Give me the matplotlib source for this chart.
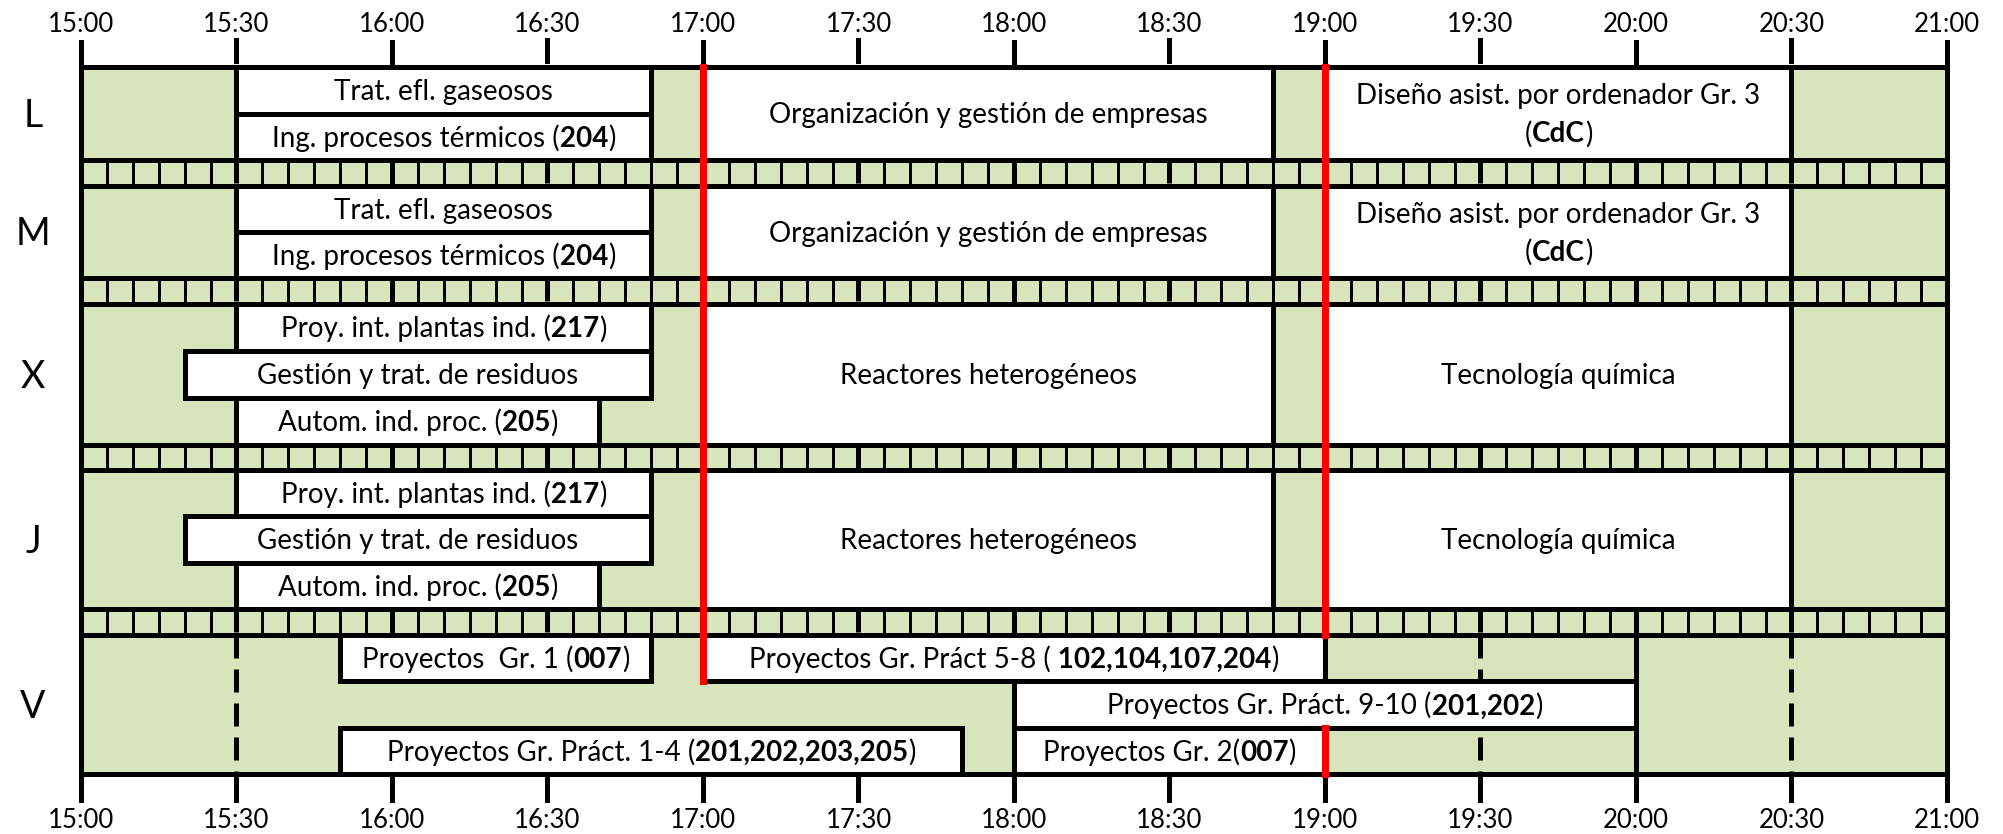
import matplotlib
matplotlib.use("Agg")
import matplotlib.pyplot as plt
from matplotlib.patches import Rectangle

plt.rcParams['font.family'] = ['Lato', 'DejaVu Sans']
plt.rcParams['lines.scale_dashes'] = False

# ---------------- data ----------------
days = ["L", "M", "X", "J", "V"]
bands_per_day = [2, 2, 3, 3, 3]
tick_hours = [15.0, 15.5, 16.0, 16.5, 17.0, 17.5, 18.0, 18.5, 19.0, 19.5, 20.0, 20.5, 21.0]
tick_labels = ["15:00", "15:30", "16:00", "16:30", "17:00", "17:30", "18:00",
               "18:30", "19:00", "19:30", "20:00", "20:30", "21:00"]

session_day = [0, 0, 0, 0,
               1, 1, 1, 1,
               2, 2, 2, 2, 2,
               3, 3, 3, 3, 3,
               4, 4, 4, 4, 4]
session_start = [15.5, 15.5, 17.0, 19.0,
                 15.5, 15.5, 17.0, 19.0,
                 15.5, 15 + 20/60, 15.5, 17.0, 19.0,
                 15.5, 15 + 20/60, 15.5, 17.0, 19.0,
                 15 + 50/60, 17.0, 18.0, 15 + 50/60, 18.0]
session_end = [16 + 50/60, 16 + 50/60, 18 + 50/60, 20.5,
               16 + 50/60, 16 + 50/60, 18 + 50/60, 20.5,
               16 + 50/60, 16 + 50/60, 16 + 40/60, 18 + 50/60, 20.5,
               16 + 50/60, 16 + 50/60, 16 + 40/60, 18 + 50/60, 20.5,
               16 + 50/60, 19.0, 20.0, 17 + 50/60, 19.0]
session_band_first = [0, 1, 0, 0,
                      0, 1, 0, 0,
                      0, 1, 2, 0, 0,
                      0, 1, 2, 0, 0,
                      0, 0, 1, 2, 2]
session_band_last = [1, 2, 2, 2,
                     1, 2, 2, 2,
                     1, 2, 3, 3, 3,
                     1, 2, 3, 3, 3,
                     1, 1, 2, 3, 3]
session_text = [
    "Trat. efl. gaseosos", "Ing. procesos térmicos (**204**)",
    "Organización y gestión de empresas", "Diseño asist. por ordenador Gr. 3\n(**CdC**)",
    "Trat. efl. gaseosos", "Ing. procesos térmicos (**204**)",
    "Organización y gestión de empresas", "Diseño asist. por ordenador Gr. 3\n(**CdC**)",
    "Proy. int. plantas ind. (**217**)", "Gestión y trat. de residuos",
    "Autom. ind. proc. (**205**)", "Reactores heterogéneos", "Tecnología química",
    "Proy. int. plantas ind. (**217**)", "Gestión y trat. de residuos",
    "Autom. ind. proc. (**205**)", "Reactores heterogéneos", "Tecnología química",
    "Proyectos  Gr. 1 (**007**)", "Proyectos Gr. Práct 5-8 ( **102,104,107,204**)",
    "Proyectos Gr. Práct. 9-10 (**201,202**)",
    "Proyectos Gr. Práct. 1-4 (**201,202,203,205**)", "Proyectos Gr. 2(**007**)",
]

# ---------------- style / layout ----------------
GREEN = "#D8E4BC"
RED = "#FF0000"
PX = 0.72            # points per pixel at dpi 100
W, H = 2003, 834
X0_PX, PX_PER_H = 81.0, 311.0
T0, T1 = 15.0, 21.0
TEXT_SIZE = 20

row_top = [67, 186, 304, 470, 635]
row_bot = [160, 278, 445, 609, 774]
TABLE_TOP, TABLE_BOT = row_top[0], row_bot[-1]

fig = plt.figure(figsize=(W / 100, H / 100), dpi=100)
ax = fig.add_axes([0, 0, 1, 1])
ax.set_xlim(T0 - X0_PX / PX_PER_H, T0 + (W - X0_PX) / PX_PER_H)
ax.set_ylim(H, 0)
ax.axis("off")

LW = 5 * PX
LW_THIN = 3 * PX
LW_RED = 7 * PX
DASH = (0, (23 * PX, 11 * PX))


def vline(x, y0, y1, **kw):
    ax.plot([x, x], [y0, y1], **kw)


# green background of the table
ax.add_patch(Rectangle((T0, TABLE_TOP), T1 - T0, TABLE_BOT - TABLE_TOP,
                       facecolor=GREEN, edgecolor="none", zorder=0))

# separator stripes with 5-minute marks
for i in range(len(days) - 1):
    s0, s1 = row_bot[i], row_top[i + 1]
    for k in range(1, 72):
        x = T0 + k * 5 / 60
        if k % 12 == 0:
            vline(x, s0, s1, color="black", lw=LW, zorder=1)
        elif k % 6 == 0:
            vline(x, s0, s1, color="black", lw=LW, zorder=1, linestyle=DASH)
        else:
            vline(x, s0, s1, color="black", lw=LW_THIN, zorder=1)

# friday cell lines (dashed half-hours, solid 20:00)
for x in [15.5, 19.5, 20.5]:
    vline(x, row_top[4], row_bot[4], color="black", lw=LW, zorder=1, linestyle=DASH)
vline(20.0, row_top[4], row_bot[4], color="black", lw=LW, zorder=1)


def draw_rich(xc, yc, text, size):
    """Center text (with **bold** parts) on (xc, yc) in data coords."""
    lines = text.split("\n")
    renderer = fig.canvas.get_renderer()
    n = len(lines)
    line_gap = 38
    for li, line in enumerate(lines):
        parts = line.split("**")
        pieces = []
        carry = ""
        for j, p in enumerate(parts):
            p = carry + p
            carry = ""
            stripped = p.rstrip(" ")
            if j < len(parts) - 1 and len(stripped) < len(p):
                carry = p[len(stripped):]
                p = stripped
            if p:
                pieces.append((p, "bold" if j % 2 == 1 else "normal"))
        widths = []
        arts = []
        for p, wgt in pieces:
            t = ax.text(0, 0, p, fontsize=size, fontweight=wgt, ha="left", va="baseline", zorder=8)
            arts.append(t)
            widths.append(t.get_window_extent(renderer).width)
        total = sum(widths)
        xpix = ax.transData.transform((xc, 0))[0] - total / 2
        yl = yc + (li - (n - 1) / 2) * line_gap
        base = yl + 0.716 * size / PX / 2
        for t, w in zip(arts, widths):
            xd = ax.transData.inverted().transform((xpix, 0))[0]
            t.set_position((xd, base))
            xpix += w


# sessions
for d, s, e, b0, b1, txt in zip(session_day, session_start, session_end,
                                 session_band_first, session_band_last, session_text):
    n = bands_per_day[d]
    h = row_bot[d] - row_top[d]
    y0 = row_top[d] + h * b0 / n
    y1 = row_top[d] + h * b1 / n
    ax.add_patch(Rectangle((s, y0), e - s, y1 - y0, facecolor="white",
                           edgecolor="black", lw=LW, zorder=3, joinstyle="miter"))
    draw_rich((s + e) / 2, (y0 + y1) / 2, txt, TEXT_SIZE)

# horizontal borders
for y in [TABLE_TOP] + row_bot + row_top[1:]:
    ax.plot([T0, T1], [y, y], color="black", lw=LW, zorder=5, solid_capstyle="projecting")

# outer vertical borders
for x in [T0, T1]:
    vline(x, 42, 800, color="black", lw=LW, zorder=5)

# red markers
v_h = row_bot[4] - row_top[4]
vline(17.0, TABLE_TOP, row_top[4] + v_h / 3, color=RED, lw=LW_RED, zorder=6)
vline(19.0, TABLE_TOP, row_top[4], color=RED, lw=LW_RED, zorder=6)
vline(19.0, row_top[4] + 2 * v_h / 3, row_bot[4], color=RED, lw=LW_RED, zorder=6)

# ticks and labels
for hr, lab in zip(tick_hours, tick_labels):
    if hr in (T0, T1):
        pass
    elif hr == int(hr):
        vline(hr, 42, TABLE_TOP, color="black", lw=LW, zorder=5)
        vline(hr, TABLE_BOT, 800, color="black", lw=LW, zorder=5)
    else:
        vline(hr, 40, 61, color="black", lw=LW, zorder=5)
        vline(hr, 777, 800, color="black", lw=LW, zorder=5)
    ax.text(hr, 32, lab, fontsize=18.5, ha="center", va="baseline")
    ax.text(hr, 828, lab, fontsize=18.5, ha="center", va="baseline")

# day labels
for i, d in enumerate(days):
    yc = (row_top[i] + row_bot[i]) / 2
    ax.text(33 / PX_PER_H + T0 - X0_PX / PX_PER_H, yc + 0.716 * 27 / PX / 2, d,
            fontsize=27, ha="center", va="baseline")

fig.savefig("out.png", dpi=100)
